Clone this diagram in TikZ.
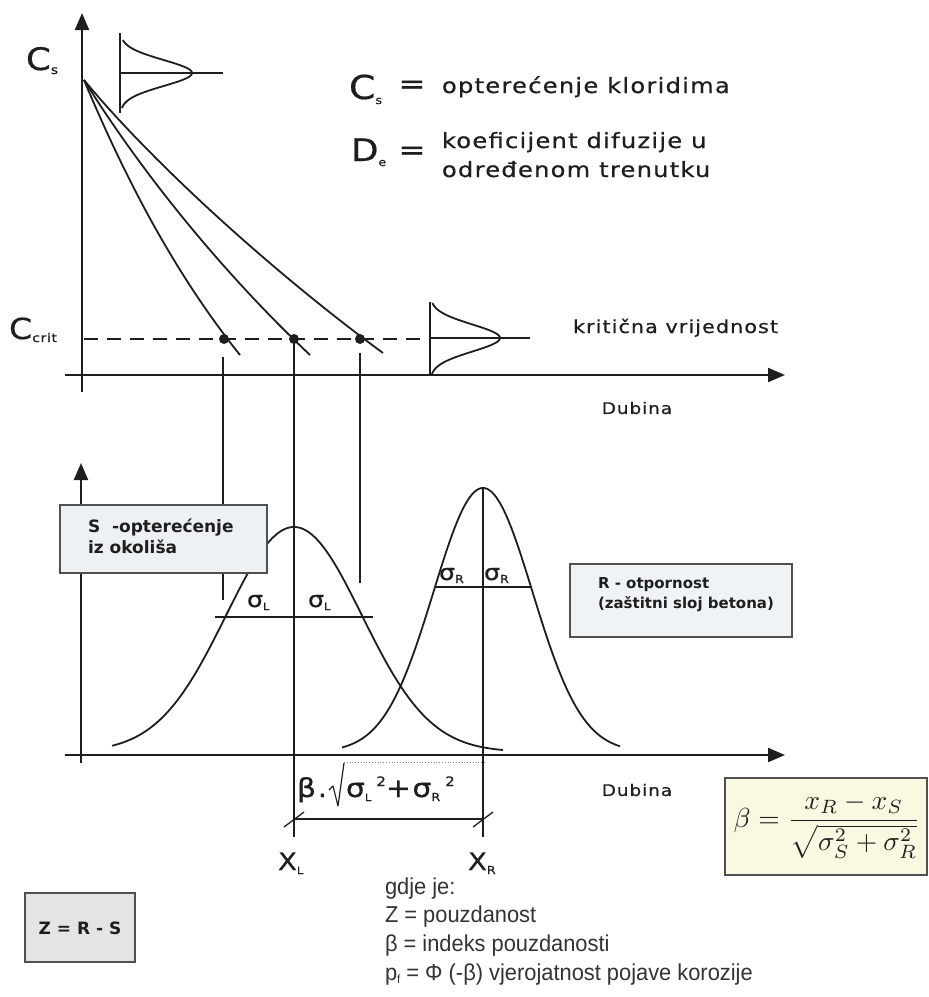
\documentclass[tikz,border=0pt]{standalone}
\usepackage{fontspec}
\usepackage{graphicx}
\usetikzlibrary{arrows.meta}
\newfontfamily\gfont[FakeStretch=1.15,LetterSpace=6,FakeBold=0.6]{DejaVu Sans}
\newfontfamily\bxfont{DejaVu Sans}
\newfontfamily\nfont[FakeStretch=0.95]{Liberation Sans}
\definecolor{ink}{HTML}{1E1E1E}
\definecolor{sfill}{HTML}{EDF1F4}
\definecolor{rfill}{HTML}{F0F3F5}
\definecolor{zfill}{HTML}{E4E4E4}
\definecolor{ffill}{HTML}{F9F9E2}
\definecolor{bordc}{HTML}{505050}
\definecolor{ntext}{HTML}{333333}
\tikzset{
  axis/.style={line width=2.2pt, -{Triangle[width=14pt,length=17pt]}},
  crv/.style={line width=1.8pt},
  thinl/.style={line width=1.3pt},
  lab/.style={inner sep=0pt, outer sep=0pt, text=ink},
  boxst/.style={line width=1.6pt, draw=bordc},
}
\begin{document}
\begin{tikzpicture}[x=1pt,y=-1pt,color=ink]
\useasboundingbox (0,0) rectangle (929,997);
% ---------- top chart ----------
\draw[axis] (82,392) -- (82,13);
\draw[axis] (65,375) -- (785,375);
% small distribution at Cs
\draw[thinl] (120,33) -- (120,113);
\draw[thinl] (120,73) -- (223,73);
\draw[crv] plot[domain=40:108,samples=60] ({120+72*exp(-0.5*((\x-73)/13)*((\x-73)/13))},\x);
% decay curves
\draw[crv] (84,80) .. controls (130,190) and (180,280) .. (240,355);
\draw[crv] (84,80) .. controls (140,170) and (220,270) .. (310,355);
\draw[crv] (84,80) .. controls (150,160) and (270,270) .. (383,353);
% critical value
\draw[line width=2.2pt, dash pattern=on 14pt off 9pt] (84,339) -- (430,339);
\fill (224,339) circle (5pt);
\fill (294,339) circle (5pt);
\fill (360,339) circle (5pt);
\draw[thinl] (430,302) -- (430,375);
\draw[thinl] (430,338) -- (530,338);
\draw[crv] plot[domain=303:375,samples=60] ({430+70*exp(-0.5*((\x-338)/13.5)*((\x-338)/13.5))},\x);
% verticals
\draw[thinl] (223,357) -- (223,600);
\draw[thinl] (294,339) -- (294,837);
\draw[thinl] (360,353) -- (360,583);
% ---------- bottom chart ----------
\draw[axis] (81,763) -- (81,463);
\draw[axis] (65,755) -- (785,755);
\draw[crv] plot[domain=112:503,samples=140] (\x,{752-225*exp(-0.5*((\x-294)/68)*((\x-294)/68))});
\draw[crv] plot[domain=342:620,samples=140] (\x,{752-264*exp(-0.5*((\x-483)/49.5)*((\x-483)/49.5))});
\draw[thinl] (215,617) -- (373,617);
\draw[thinl] (435,587) -- (532,587);
\draw[thinl] (483,488) -- (483,837);
% dimension
\draw[thinl] (294,819) -- (483,819);
\draw[thinl] (284,827) -- (304,812);
\draw[thinl] (473,827) -- (493,812);
% radical sign of the beta expression
\draw[line width=1.2pt, line join=round] (329,790) -- (333,786) -- (338,806) -- (344,763);
\draw[line width=0.8pt, dotted, gray] (344,762) -- (485,762);
% boxes
\filldraw[boxst, fill=sfill] (60,505) rectangle (267,573);
\filldraw[boxst, fill=rfill] (570,564) rectangle (792,637);
\filldraw[boxst, fill=ffill] (725,778) rectangle (927,875);
\filldraw[boxst, fill=zfill] (25,893) rectangle (135,962);
% ---------- texts ----------
\node[lab, anchor=base west] (cs) at (26,70) {\gfont\fontsize{31}{31}\selectfont C\raisebox{-4pt}{\fontsize{12}{12}\selectfont s}};
\node[lab, anchor=base west] (ccrit) at (9,339) {\gfont\fontsize{29}{29}\selectfont C\raisebox{-3pt}{\fontsize{12}{12}\selectfont crit}};
\node[lab, anchor=base west] (csl) at (349,99) {\gfont\fontsize{33}{33}\selectfont C\raisebox{-5pt}{\fontsize{11}{11}\selectfont s}};
\node[lab] (eq1) at (412,87) {\gfont\fontsize{28}{28}\selectfont =};
\node[lab, anchor=base west] (t1) at (442,93) {\gfont\fontsize{21}{21}\selectfont opterećenje kloridima};
\node[lab, anchor=base west] (del) at (351,161) {\gfont\fontsize{31}{31}\selectfont D\raisebox{-5pt}{\fontsize{11}{11}\selectfont e}};
\node[lab] (eq2) at (412,153) {\gfont\fontsize{28}{28}\selectfont =};
\node[lab, anchor=base west] (t2) at (442,148) {\gfont\fontsize{21}{21}\selectfont koeficijent difuzije u};
\node[lab, anchor=base west] (t3) at (442,177) {\gfont\fontsize{21}{21}\selectfont određenom trenutku};
\node[lab, anchor=base west] (krit) at (573,333) {\gfont\fontsize{18}{18}\selectfont kritična vrijednost};
\node[lab] (dub1) at (637,408) {\gfont\fontsize{16}{16}\selectfont Dubina};
\node[lab] (dub2) at (637,790) {\gfont\fontsize{16}{16}\selectfont Dubina};
\node[lab, anchor=north west, align=left, font=\bxfont\bfseries\fontsize{17}{21}\selectfont] (stxt) at (88,519) {S~ -opterećenje\\iz okoliša};
\node[lab, anchor=north west, align=left, font=\bxfont\bfseries\fontsize{15}{20}\selectfont] (rtxt) at (598,578) {R - otpornost\\(zaštitni sloj betona)};
\node[lab, anchor=base west] (sl1) at (247,607) {\gfont\fontsize{22}{22}\selectfont σ\raisebox{-3pt}{\fontsize{10}{10}\selectfont L}};
\node[lab, anchor=base west] (sl2) at (308,607) {\gfont\fontsize{22}{22}\selectfont σ\raisebox{-3pt}{\fontsize{10}{10}\selectfont L}};
\node[lab, anchor=base west] (sr1) at (439,580) {\gfont\fontsize{22}{22}\selectfont σ\raisebox{-3pt}{\fontsize{11}{11}\selectfont R}};
\node[lab, anchor=base west] (sr2) at (484,580) {\gfont\fontsize{22}{22}\selectfont σ\raisebox{-3pt}{\fontsize{11}{11}\selectfont R}};
\node[lab, anchor=base west] (bdot) at (297,797) {\gfont\fontsize{26}{26}\selectfont β.};
\node[lab, anchor=base west] (bsq) at (346,797) {\gfont\fontsize{26}{26}\selectfont σ\raisebox{-4pt}{\fontsize{10}{10}\selectfont L}\hspace{5pt}\raisebox{11pt}{\fontsize{13}{13}\selectfont 2}+σ\raisebox{-4pt}{\fontsize{11}{11}\selectfont R}\hspace{5pt}\raisebox{11pt}{\fontsize{13}{13}\selectfont 2}};
\node[lab, anchor=base west] (xl) at (278,870) {\gfont\fontsize{24}{24}\selectfont X\raisebox{-4pt}{\fontsize{10}{10}\selectfont L}};
\node[lab, anchor=base west] (xr) at (468,870) {\gfont\fontsize{24}{24}\selectfont X\raisebox{-4pt}{\fontsize{11}{11}\selectfont R}};
\node[lab] (form) at (827,826) {\scalebox{2.75}{$\displaystyle \beta=\frac{x_R-x_S}{\sqrt{\sigma_S^2+\sigma_R^2}}$}};
\node[lab] (ztxt) at (80,928) {\bxfont\bfseries\fontsize{17}{17}\selectfont Z = R - S};
\node[lab, anchor=base west, text=ntext] (g1) at (385,894) {\nfont\fontsize{23}{23}\selectfont gdje je:};
\node[lab, anchor=base west, text=ntext] (g2) at (385,922) {\nfont\fontsize{23}{23}\selectfont Z = pouzdanost};
\node[lab, anchor=base west, text=ntext] (g3) at (385,951) {\nfont\fontsize{23}{23}\selectfont β = indeks pouzdanosti};
\node[lab, anchor=base west, text=ntext] (g4) at (385,980) {\nfont\fontsize{23}{23}\selectfont p\raisebox{-3pt}{\fontsize{12}{12}\selectfont f} = Φ (-β) vjerojatnost pojave korozije};
\end{tikzpicture}
\end{document}
